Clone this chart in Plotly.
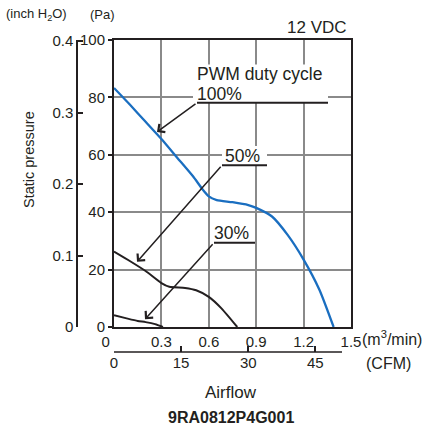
import plotly.graph_objects as go

# ---- data ----
flow_100 = [0, 0.1, 0.2, 0.3, 0.4, 0.5, 0.56, 0.6, 0.65, 0.75, 0.85, 0.9, 1.0, 1.1, 1.2, 1.3, 1.39]
pa_100 = [83.3, 77.5, 71.5, 65.5, 59, 52.5, 48, 45.5, 44.2, 43.5, 42.5, 41.5, 38.5, 32, 23.5, 13, 0]
flow_50 = [0, 0.1, 0.2, 0.3, 0.35, 0.45, 0.52, 0.6, 0.68, 0.78]
pa_50 = [26.3, 23, 19.5, 15.3, 14, 13.6, 12.8, 10.5, 6.5, 0]
flow_30 = [0, 0.08, 0.15, 0.2, 0.26, 0.31]
pa_30 = [4.1, 3, 2.1, 1.7, 1, 0]

x_ticks = [0, 0.3, 0.6, 0.9, 1.2, 1.5]
x_ticklabels = ["0\u00a0\u00a0\u00a0\u00a0", "0.3", "0.6", "0.9", "1.2", "1.5"]
y_ticks = [0, 20, 40, 60, 80, 100]
inch_ticks = [0, 0.1, 0.2, 0.3, 0.4]
inch_ticklabels = ["0", "0.1", "0.2", "0.3", "0.4"]
cfm_ticks = [0, 15, 30, 45]

PA_PER_INH2O = 249.089
CFM_PER_M3MIN = 35.3147

W, H = 435, 432
def px(x):
    return x / W
def py(y):
    return 1 - y / H

NARROW = "Liberation Sans Narrow, Arial Narrow, Liberation Sans, Arial"
SANS = "Liberation Sans, Arial, Helvetica"
BLUE = "#1a6ec0"
INK = "#231f20"

fig = go.Figure()
fig.add_trace(go.Scatter(x=flow_100, y=pa_100, mode="lines", line=dict(color=BLUE, width=2.3, shape="spline", smoothing=0.6), showlegend=False, hoverinfo="skip"))
fig.add_trace(go.Scatter(x=flow_50, y=pa_50, mode="lines", line=dict(color=INK, width=2, shape="spline", smoothing=0.6), showlegend=False, hoverinfo="skip"))
fig.add_trace(go.Scatter(x=flow_30, y=pa_30, mode="lines", line=dict(color=INK, width=2, shape="spline", smoothing=0.6), showlegend=False, hoverinfo="skip"))
# invisible trace on the secondary (unit-conversion) axes so that they are drawn
fig.add_trace(go.Scatter(x=[0], y=[0], xaxis="x2", yaxis="y2", mode="markers", marker=dict(opacity=0, size=1),
                         showlegend=False, hoverinfo="skip"))

xdom = [px(114), px(351)]
ydom = [py(327), py(40)]
cfm_end = 342

fig.update_layout(
    width=W, height=H,
    margin=dict(l=0, r=0, t=0, b=0, autoexpand=False),
    paper_bgcolor="white", plot_bgcolor="white",
    xaxis=dict(domain=xdom, range=[0, 1.5], anchor="y",
               tickvals=x_ticks, ticktext=x_ticklabels,
               showgrid=True, gridcolor="#8a8a8a", gridwidth=1.5,
               showline=True, linecolor=INK, linewidth=2, mirror=True,
               ticks="", tickfont=dict(family=NARROW, size=15, color=INK),
               zeroline=False, fixedrange=True, automargin=False),
    yaxis=dict(domain=ydom, range=[0, 100], anchor="x",
               tickvals=y_ticks,
               showgrid=True, gridcolor="#8a8a8a", gridwidth=1.5,
               showline=True, linecolor=INK, linewidth=2, mirror=True,
               ticks="outside", ticklen=4, tickwidth=1.5, tickcolor=INK,
               tickfont=dict(family=NARROW, size=15, color=INK),
               zeroline=False, fixedrange=True, automargin=False),
    yaxis2=dict(range=[0, 100 / PA_PER_INH2O], anchor="free", position=px(77),
                overlaying="y", side="left",
                tickvals=inch_ticks, ticktext=inch_ticklabels,
                showgrid=False, showline=True, linecolor=INK, linewidth=1.5,
                ticks="inside", ticklen=5, tickwidth=1.5, tickcolor=INK,
                tickfont=dict(family=NARROW, size=15, color=INK),
                zeroline=False, fixedrange=True, automargin=False),
    xaxis2=dict(range=[0, 1.5 * CFM_PER_M3MIN],
                anchor="free", position=py(352), side="bottom", overlaying="x",
                tickvals=cfm_ticks,
                showgrid=False, showline=False,
                ticks="inside", ticklen=6, tickwidth=1.5, tickcolor=INK,
                tickfont=dict(family=NARROW, size=15, color=INK),
                zeroline=False, fixedrange=True, automargin=False),
)

# CFM axis line (ends short of the plot edge, as in the reference)
fig.add_shape(type="line", xref="paper", yref="paper", x0=px(114), x1=px(cfm_end), y0=py(352), y1=py(352),
              line=dict(color=INK, width=1.5))

def txt(x, y, s, size=14, family=SANS, xanchor="center", yanchor="middle", bold=False, textangle=0):
    fig.add_annotation(x=px(x), y=py(y), xref="paper", yref="paper", text=("<b>%s</b>" % s) if bold else s,
                       showarrow=False, xanchor=xanchor, yanchor=yanchor, textangle=textangle,
                       font=dict(family=family, size=size, color=INK), borderpad=0)

txt(5, 15, "(inch H<sub>2</sub>O)", size=13, xanchor="left")
txt(89, 15, "(Pa)", size=13, xanchor="left")
txt(348, 27, "12 VDC", size=17, xanchor="right")
txt(29, 160, "Static pressure", size=14.5, textangle=-90)
txt(361, 338, "(m<sup>3</sup>/min)", size=16, xanchor="left")
txt(388, 363, "(CFM)", size=16)
txt(231, 392, "Airflow", size=17)
txt(231, 417, "9RA0812P4G001", size=16, bold=True)

# label boxes / text in data coordinates
def xd(p):
    return (p - 114) / 158.0
def yd(p):
    return (326.7 - p) / 2.85

boxes = [(193, 328, 66, 104), (222, 267, 147, 166), (212, 255, 224, 243)]
for x0, x1, y0, y1 in boxes:
    fig.add_shape(type="rect", x0=xd(x0), x1=xd(x1), y0=yd(y1), y1=yd(y0), xref="x", yref="y",
                  fillcolor="white", line=dict(width=0), layer="between")

def label(x, y, s):
    fig.add_annotation(x=xd(x), y=yd(y), xref="x", yref="y", text=s, showarrow=False,
                       xanchor="left", yanchor="middle", borderpad=0,
                       font=dict(family=SANS, size=17.5, color=INK))

label(196, 75, "PWM duty cycle")
label(196, 95, "100%")
label(224, 157, "50%")
label(213, 233, "30%")

leaders = [
    # (x_start, x_end, y, tip_x, tip_y)
    (197, 328, 104, 157, 133),
    (222, 267, 166, 137, 262),
    (214, 255, 243, 145, 319),
]
for x0, x1, yy, tx, ty in leaders:
    fig.add_shape(type="line", x0=xd(x0), x1=xd(x1), y0=yd(yy), y1=yd(yy), xref="x", yref="y",
                  line=dict(color=INK, width=2))
    fig.add_annotation(x=xd(tx), y=yd(ty), ax=xd(x0), ay=yd(yy), xref="x", yref="y", axref="x", ayref="y",
                       text="", showarrow=True, arrowhead=4, arrowsize=1.3, arrowwidth=1.5, arrowcolor=INK)

fig.write_html("out.html", config={"displayModeBar": False},
               post_script="document.body.style.margin='0';document.body.style.overflow='hidden';")
